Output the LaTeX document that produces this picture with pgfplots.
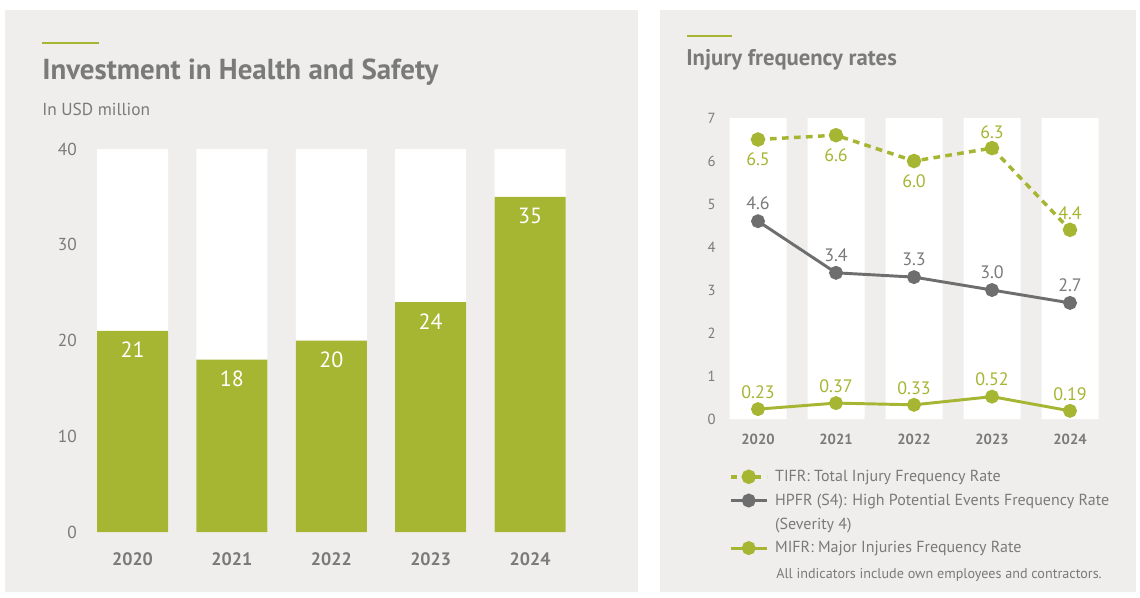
\documentclass[border=0pt]{standalone}
\usepackage{fontspec}
\setmainfont{PT Sans}
\usepackage{pgfplots}
\pgfplotsset{compat=1.18}
\definecolor{bg}{HTML}{EFEEED}
\definecolor{grn}{HTML}{A6B532}
\definecolor{txt}{HTML}{7A7A7A}
\definecolor{dk}{HTML}{6E6E6E}
\pgfplotsset{/pgf/number format/assume math mode=true}
\begin{document}
\begin{tikzpicture}[x=0.75pt,y=-0.75pt]
% page and panels
\fill[white] (0,0) rectangle (1140,597);
\fill[bg] (5,10) rectangle (638,592);
\fill[bg] (660,10) rectangle (1136,592);
% left titles
\draw[grn, line width=2.2pt] (42,43) -- (99,43);
\node[anchor=base west, inner sep=0pt, text=txt, font=\fontsize{21.7}{24}\selectfont\bfseries] at (42,79) {Investment in Health and Safety};
\node[anchor=base west, inner sep=0pt, text=txt, font=\fontsize{13}{15}\selectfont] at (42,115) {In USD million};
% right titles
\draw[grn, line width=1.5pt] (687,36) -- (732,36);
\node[anchor=base west, inner sep=0pt, text=txt, font=\fontsize{17}{20}\selectfont\bfseries] at (686,65) {Injury frequency rates};
\node[anchor=base west, inner sep=0pt, text=txt, font=\fontsize{10.6}{12}\selectfont] at (776,578) {All indicators include own employees and contractors.};

% left chart
\begin{axis}[
  at={(62.1pt,-399pt)}, anchor=south west,
  width=372.75pt, height=287.25pt, scale only axis,
  xmin=-0.5, xmax=4.5, ymin=0, ymax=40,
  axis line style={draw=none}, major tick length=0pt,
  xtick={0,1,2,3,4}, xticklabels={2020,2021,2022,2023,2024},
  ytick={0,10,20,30,40},
  xticklabel style={font=\fontsize{13.5}{15}\selectfont\bfseries, text=txt, yshift=-12pt},
  yticklabel style={font=\fontsize{13}{15}\selectfont, text=txt, xshift=-1pt},
  clip=false,
]
\addplot[ybar, bar width=53.25pt, bar shift=0pt, fill=white, draw=none] coordinates {(0,40) (1,40) (2,40) (3,40) (4,40)};
\addplot[ybar, bar width=53.25pt, bar shift=0pt, fill=grn, draw=none,
  point meta=y, nodes near coords,
  nodes near coords style={anchor=north, yshift=-5pt, text=white, font=\fontsize{16.5}{18}\selectfont}]
  coordinates {(0,21) (1,18) (2,20) (3,24) (4,35)};
\end{axis}

% right chart
\begin{axis}[
  at={(539.25pt,-314.25pt)}, anchor=south west,
  width=292.5pt, height=225.75pt, scale only axis,
  xmin=-0.5, xmax=4.5, ymin=0, ymax=7,
  axis line style={draw=none}, major tick length=0pt,
  xtick={0,1,2,3,4}, xticklabels={2020,2021,2022,2023,2024},
  ytick={0,1,2,3,4,5,6,7},
  xticklabel style={font=\fontsize{11}{13}\selectfont\bfseries, text=txt, yshift=-8pt},
  yticklabel style={font=\fontsize{11}{13}\selectfont, text=txt, xshift=1pt},
  clip=false,
  legend style={draw=none, fill=none, at={(0.025,-0.16)}, anchor=north west,
    font=\fontsize{12}{14}\selectfont, text=txt, row sep=3.8pt,
    inner sep=0pt, nodes={inner xsep=5pt}},
  legend cell align=left,
  legend image code/.code={\draw[mark repeat=2, mark phase=2] plot coordinates {(0pt,0pt) (13.5pt,0pt) (27pt,0pt)};},
]
\addplot[ybar, bar width=42.75pt, bar shift=0pt, fill=white, draw=none, forget plot] coordinates {(0,7) (1,7) (2,7) (3,7) (4,7)};
\addplot[grn, line width=2.6pt, dash pattern=on 5pt off 4pt, mark=*, mark size=4.1pt, mark options={solid, fill=grn, draw=none},
  visualization depends on={\thisrow{s} \as \sh},
  point meta=explicit, nodes near coords,
  nodes near coords style={anchor=center, yshift=\sh pt, text=grn, font=\fontsize{13.5}{15}\selectfont,
    /pgf/number format/.cd, fixed, precision=1, fixed zerofill}]
  table[x=x, y=y, meta=y] {
x y s
0 6.5 -15
1 6.6 -15
2 6.0 -15
3 6.3 12
4 4.4 12.5
};
\addlegendentry{TIFR: Total Injury Frequency Rate}
\addplot[dk, line width=2.2pt, mark=*, mark size=4.1pt, mark options={fill=dk, draw=none},
  point meta=y, nodes near coords,
  nodes near coords style={anchor=center, yshift=13.5pt, text=txt, font=\fontsize{13.5}{15}\selectfont,
    /pgf/number format/.cd, fixed, precision=1, fixed zerofill}]
  coordinates {(0,4.6) (1,3.4) (2,3.3) (3,3.0) (4,2.7)};
\addlegendentry{HPFR (S4): High Potential Events Frequency Rate}
\addlegendimage{empty legend}
\addlegendentry{(Severity 4)}
\addplot[grn, line width=2.2pt, mark=*, mark size=4.1pt, mark options={fill=grn, draw=none},
  point meta=y, nodes near coords,
  nodes near coords style={anchor=center, yshift=12.75pt, text=grn, font=\fontsize{13.5}{15}\selectfont,
    /pgf/number format/.cd, fixed, precision=2, fixed zerofill}]
  coordinates {(0,0.23) (1,0.37) (2,0.33) (3,0.52) (4,0.19)};
\addlegendentry{MIFR: Major Injuries Frequency Rate}
\end{axis}
\end{tikzpicture}
\end{document}
